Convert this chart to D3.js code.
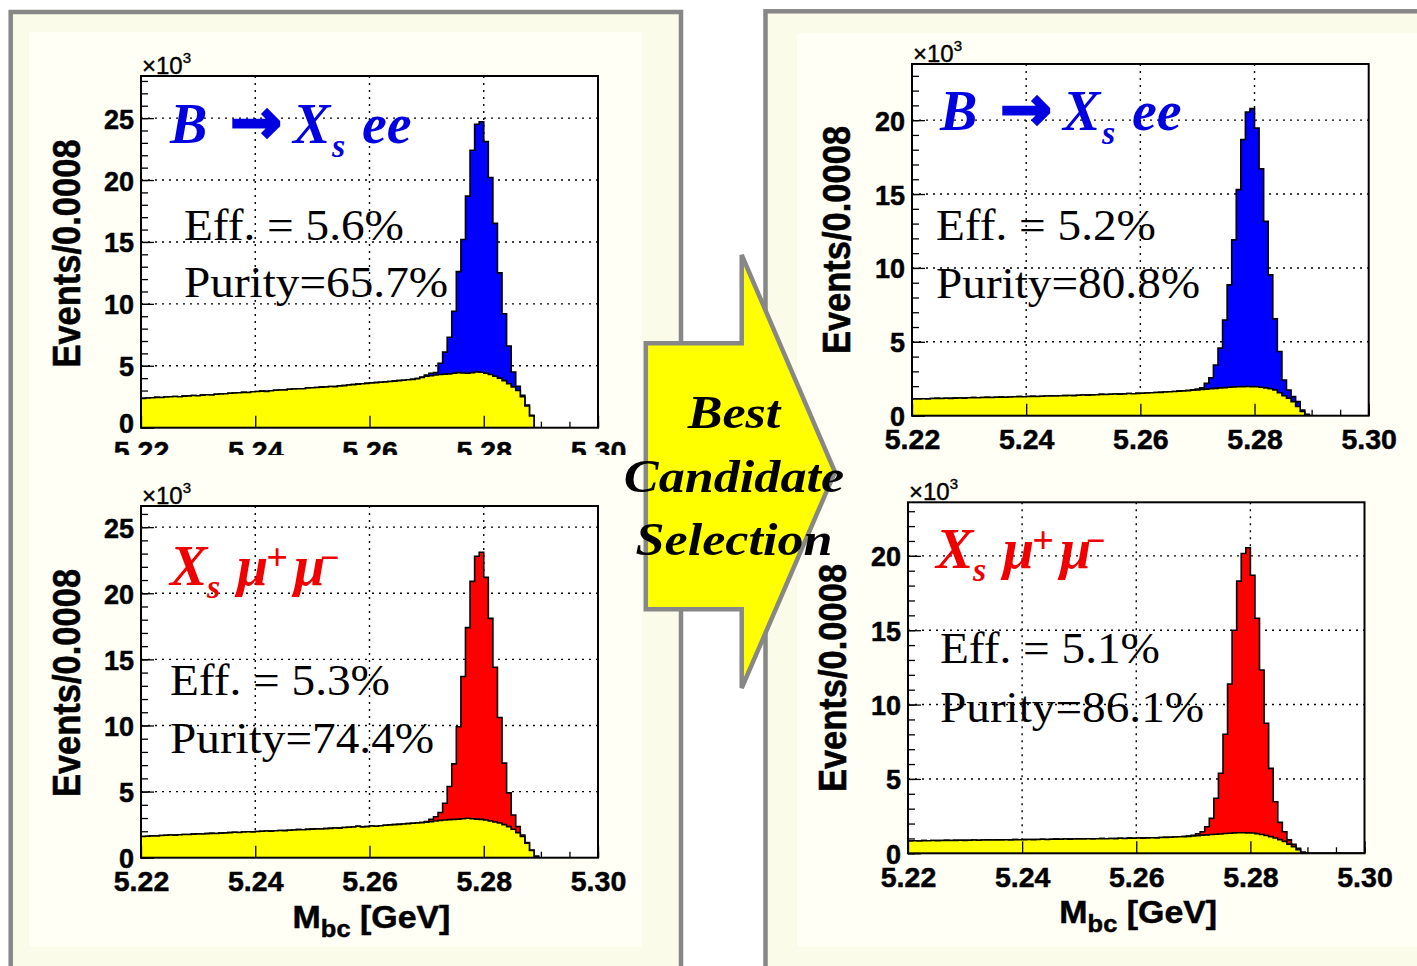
<!DOCTYPE html>
<html>
<head>
<meta charset="utf-8">
<script src="https://cdn.jsdelivr.net/npm/d3@7"></script>
<style>
  body { margin: 0; background: #ffffff; }
  svg { display: block; }
  text { white-space: pre; }
</style>
</head>
<body>
<svg id="fig" width="1417" height="966"></svg>
<script>
// ---------------- data ----------------
const massRange = [5.22, 5.30];
const binWidth = 0.0008;
const nBins = 100;
const massTicks = [5.22, 5.24, 5.26, 5.28, 5.30];
const massTickLabels = ["5.22", "5.24", "5.26", "5.28", "5.30"];
const countTicksAll = [0, 5, 10, 15, 20, 25];
const countTicksBest = [0, 5, 10, 15, 20];
const countTickLabelsAll = ["0", "5", "10", "15", "20", "25"];
const countTickLabelsBest = ["0", "5", "10", "15", "20"];
const peakFirstBin = 60;   // signal arrays start at this bin

// background (yellow), events per bin in units of 10^3, 100 bins
const bkgEeAll = [
  2.37, 2.40, 2.42, 2.45, 2.44, 2.48, 2.50, 2.52, 2.50, 2.55,
  2.57, 2.60, 2.58, 2.63, 2.66, 2.64, 2.70, 2.72, 2.74, 2.78,
  2.80, 2.82, 2.85, 2.84, 2.90, 2.92, 2.95, 2.93, 2.98, 3.02,
  3.05, 3.04, 3.10, 3.12, 3.15, 3.14, 3.20, 3.22, 3.25, 3.28,
  3.30, 3.33, 3.32, 3.38, 3.40, 3.45, 3.48, 3.52, 3.55, 3.58,
  3.62, 3.64, 3.67, 3.70, 3.73, 3.76, 3.80, 3.83, 3.87, 3.90,
  3.96, 4.05, 4.15, 4.20, 4.25, 4.30, 4.32, 4.35, 4.40, 4.45,
  4.42, 4.40, 4.45, 4.50, 4.48, 4.40, 4.30, 4.15, 4.00, 3.80,
  3.55, 3.30, 3.00, 2.50, 1.75, 0.95, 0, 0, 0, 0,
  0, 0, 0, 0, 0, 0, 0, 0, 0, 0
];
const bkgMuMuAll = [
  1.60, 1.62, 1.65, 1.64, 1.68, 1.70, 1.72, 1.71, 1.74, 1.76,
  1.75, 1.78, 1.80, 1.79, 1.82, 1.84, 1.83, 1.86, 1.88, 1.90,
  1.92, 1.91, 1.94, 1.96, 1.95, 1.98, 2.00, 2.02, 2.01, 2.04,
  2.06, 2.05, 2.08, 2.10, 2.12, 2.11, 2.14, 2.16, 2.18, 2.17,
  2.20, 2.22, 2.25, 2.24, 2.28, 2.30, 2.32, 2.38, 2.33, 2.35,
  2.40, 2.38, 2.42, 2.45, 2.48, 2.50, 2.52, 2.55, 2.58, 2.60,
  2.62, 2.65, 2.68, 2.72, 2.78, 2.82, 2.85, 2.88, 2.90, 2.92,
  2.95, 2.98, 2.95, 2.92, 2.90, 2.85, 2.78, 2.70, 2.62, 2.50,
  2.35, 2.15, 1.90, 1.60, 1.10, 0.55, 0.10, 0, 0, 0,
  0, 0, 0, 0, 0, 0, 0, 0, 0, 0
];
const bkgEeBest = [
  1.13, 1.14, 1.15, 1.14, 1.16, 1.17, 1.16, 1.18, 1.17, 1.19,
  1.20, 1.19, 1.21, 1.22, 1.21, 1.23, 1.24, 1.23, 1.25, 1.26,
  1.25, 1.27, 1.28, 1.29, 1.28, 1.30, 1.31, 1.30, 1.32, 1.33,
  1.34, 1.33, 1.35, 1.36, 1.37, 1.36, 1.38, 1.40, 1.39, 1.41,
  1.42, 1.44, 1.43, 1.45, 1.47, 1.46, 1.48, 1.50, 1.49, 1.51,
  1.52, 1.54, 1.55, 1.57, 1.58, 1.60, 1.62, 1.64, 1.66, 1.68,
  1.70, 1.72, 1.75, 1.78, 1.80, 1.83, 1.85, 1.88, 1.90, 1.93,
  1.95, 1.96, 1.97, 1.98, 1.97, 1.96, 1.93, 1.88, 1.82, 1.75,
  1.55, 1.35, 1.18, 0.95, 0.62, 0.28, 0.05, 0, 0, 0,
  0, 0, 0, 0, 0, 0, 0, 0, 0, 0
];
const bkgMuMuBest = [
  0.83, 0.84, 0.83, 0.85, 0.84, 0.86, 0.85, 0.86, 0.87, 0.86,
  0.87, 0.88, 0.87, 0.88, 0.89, 0.88, 0.89, 0.90, 0.89, 0.90,
  0.90, 0.91, 0.90, 0.92, 0.91, 0.92, 0.93, 0.92, 0.93, 0.94,
  0.93, 0.94, 0.95, 0.94, 0.96, 0.95, 0.96, 0.97, 0.96, 0.98,
  0.97, 0.98, 0.99, 0.98, 1.00, 0.99, 1.01, 1.00, 1.02, 1.01,
  1.03, 1.02, 1.04, 1.05, 1.04, 1.06, 1.07, 1.08, 1.10, 1.11,
  1.12, 1.14, 1.16, 1.19, 1.22, 1.24, 1.26, 1.28, 1.30, 1.33,
  1.35, 1.37, 1.38, 1.38, 1.37, 1.36, 1.32, 1.26, 1.20, 1.12,
  1.03, 0.92, 0.80, 0.62, 0.45, 0.25, 0.06, 0, 0, 0,
  0, 0, 0, 0, 0, 0, 0, 0, 0, 0
];

// signal (stacked on background), bins 60..87, units of 10^3
const sigEeAll = [
  0, 0.05, 0.11, 0.20, 0.20, 0.90, 1.78, 2.95, 5.00, 8.15,
  10.78, 14.30, 17.95, 20.00, 20.22, 18.70, 15.90, 12.35, 8.50, 5.40,
  3.05, 1.20, 0.35, 0.12, 0.08, 0.05, 0, 0
];
const sigMuMuAll = [
  0, 0, 0.05, 0.18, 0.32, 0.60, 1.27, 2.50, 4.20, 6.98,
  10.75, 14.42, 17.95, 19.88, 20.20, 18.35, 15.32, 11.70, 7.98, 4.65,
  2.55, 1.08, 0.45, 0.12, 0.05, 0.03, 0, 0
];
const sigEeBest = [
  0, 0.03, 0.05, 0.10, 0.39, 0.74, 1.58, 2.69, 4.58, 6.92,
  9.95, 13.34, 16.71, 18.57, 18.81, 17.51, 14.77, 11.27, 7.71, 4.80,
  2.79, 1.07, 0.56, 0.34, 0.33, 0.11, 0.04, 0
];
const sigMuMuBest = [
  0, 0.02, 0.05, 0.12, 0.23, 0.55, 1.09, 2.42, 4.08, 6.67,
  10.03, 13.63, 16.92, 18.78, 19.17, 17.34, 14.48, 11.06, 7.54, 4.59,
  2.44, 1.16, 0.65, 0.28, 0.15, 0.09, 0.01, 0
];

const effLabels = ["Eff. = 5.6%", "Eff. = 5.3%", "Eff. = 5.2%", "Eff. = 5.1%"];
const purityLabels = ["Purity=65.7%", "Purity=74.4%", "Purity=80.8%", "Purity=86.1%"];
const yAxisTitle = "Events/0.0008";
const stepLines = ["Best", "Candidate", "Selection"];

// ---------------- layout ----------------
const SERIF = "'Liberation Serif', 'Times New Roman', serif";
const SANS = "'Liberation Sans', Arial, Helvetica, sans-serif";
const GREY = "#878787";
const CREAM = "#fbfbea";
const CREAM_IN = "#fffff6";

const panels = [
  { bkg: bkgEeAll, sig: sigEeAll, fill: "#0000ff", channel: "ee",
    frame: { l: 141, r: 598, t: 76, b: 427.7 }, yMax: 28.4,
    yTicks: countTicksAll, yLabels: countTickLabelsAll, stat: 0, zeroDy: "0.18em",
    title: { x: 170, y: 143 }, statPos: { x: 184, y1: 240, y2: 297 },
    yTitle: { x: 80.4, y: 253.5 }, xTitle: false, labelClipBottom: 455 },
  { bkg: bkgMuMuAll, sig: sigMuMuAll, fill: "#ff0000", channel: "mumu",
    frame: { l: 141, r: 598, t: 506, b: 857.7 }, yMax: 26.6,
    yTicks: countTicksAll, yLabels: countTickLabelsAll, stat: 1, zeroDy: "0.37em",
    title: { x: 170, y: 585 }, statPos: { x: 170, y1: 695, y2: 753 },
    yTitle: { x: 80.4, y: 683 }, xTitle: true },
  { bkg: bkgEeBest, sig: sigEeBest, fill: "#0000ff", channel: "ee",
    frame: { l: 912, r: 1368.7, t: 64, b: 415.7 }, yMax: 23.8,
    yTicks: countTicksBest, yLabels: countTickLabelsBest, stat: 2, zeroDy: "0.37em",
    title: { x: 940, y: 130 }, statPos: { x: 936, y1: 240, y2: 297.7 },
    yTitle: { x: 850, y: 240 }, xTitle: false },
  { bkg: bkgMuMuBest, sig: sigMuMuBest, fill: "#ff0000", channel: "mumu",
    frame: { l: 908, r: 1364.5, t: 502.3, b: 853.3 }, yMax: 23.6,
    yTicks: countTicksBest, yLabels: countTickLabelsBest, stat: 3, zeroDy: "0.37em",
    title: { x: 936, y: 568 }, statPos: { x: 940, y1: 663.3, y2: 721.7 },
    yTitle: { x: 846, y: 678 }, xTitle: true }
];

const svg = d3.select("#fig");
const defs = svg.append("defs");

// ---------------- slide boxes ----------------
const boxes = [
  { x: 10.7, y: 12, w: 670.3, h: 1000, inner: { x: 29, y: 32, w: 613, h: 915 } },
  { x: 765.5, y: 11.3, w: 700, h: 1000, inner: { x: 797, y: 33, w: 640, h: 914 } }
];
boxes.forEach(b => {
  svg.append("rect").attr("x", b.x).attr("y", b.y).attr("width", b.w).attr("height", b.h)
    .attr("fill", CREAM).attr("stroke", "none");
  svg.append("rect").attr("x", b.inner.x).attr("y", b.inner.y)
    .attr("width", b.inner.w).attr("height", b.inner.h).attr("fill", CREAM_IN);
  svg.append("rect").attr("x", b.x).attr("y", b.y).attr("width", b.w).attr("height", b.h)
    .attr("fill", "none").attr("stroke", GREY).attr("stroke-width", 4.5);
});

// ---------------- histogram panels ----------------
const edges = d3.range(nBins + 1).map(i => massRange[0] + i * binWidth);

panels.forEach((p, pi) => {
  const f = p.frame;
  const g = svg.append("g");
  const x = d3.scaleLinear().domain(massRange).range([f.l, f.r]);
  const y = d3.scaleLinear().domain([0, p.yMax]).range([f.b, f.t]);

  const total = p.bkg.map((v, i) => {
    const k = i - peakFirstBin;
    return v + (k >= 0 && k < p.sig.length ? p.sig[k] : 0);
  });
  const steps = vals => {
    const pts = vals.map((v, i) => [edges[i], v]);
    pts.push([edges[nBins], vals[nBins - 1]]);
    return pts;
  };

  // plot area
  g.append("rect").attr("x", f.l).attr("y", f.t).attr("width", f.r - f.l)
    .attr("height", f.b - f.t).attr("fill", "#ffffff");

  const clipId = "frame-clip-" + pi;
  defs.append("clipPath").attr("id", clipId).append("rect")
    .attr("x", f.l).attr("y", f.t).attr("width", f.r - f.l).attr("height", f.b - f.t);

  // dotted grid
  const grid = g.append("g").attr("stroke", "#000").attr("stroke-width", 1.4)
    .attr("stroke-dasharray", "2,5");
  grid.selectAll("line.v").data(massTicks.slice(1, -1)).join("line")
    .attr("x1", d => x(d)).attr("x2", d => x(d)).attr("y1", f.t).attr("y2", f.b);
  grid.selectAll("line.h").data(p.yTicks.filter(d => d > 0)).join("line")
    .attr("x1", f.l).attr("x2", f.r).attr("y1", d => y(d)).attr("y2", d => y(d));

  // minor ticks (inside the frame)
  const minorY = d3.range(0, Math.floor(p.yMax) + 1);
  g.append("g").attr("transform", `translate(${f.l},0)`)
    .call(d3.axisLeft(y).tickValues(minorY).tickSize(-7).tickFormat(""))
    .call(a => a.select(".domain").remove())
    .call(a => a.selectAll("line").attr("stroke", "#000").attr("stroke-width", 1.3));
  const minorX = d3.range(0, 17).map(i => +(massRange[0] + i * 0.005).toFixed(3));
  g.append("g").attr("transform", `translate(0,${f.b})`)
    .call(d3.axisBottom(x).tickValues(minorX).tickSize(-6).tickFormat(""))
    .call(a => a.select(".domain").remove())
    .call(a => a.selectAll("line").attr("stroke", "#000").attr("stroke-width", 1.3));

  // stacked histograms
  const area = d3.area().curve(d3.curveStepAfter)
    .x(d => x(d[0])).y0(y(0)).y1(d => y(d[1]));
  const line = d3.line().curve(d3.curveStepAfter)
    .x(d => x(d[0])).y(d => y(d[1]));
  const hist = g.append("g").attr("clip-path", `url(#${clipId})`);
  hist.append("path").datum(steps(total)).attr("d", area).attr("fill", p.fill);
  hist.append("path").datum(steps(total)).attr("d", line)
    .attr("fill", "none").attr("stroke", "#000").attr("stroke-width", 1.6);
  hist.append("path").datum(steps(p.bkg)).attr("d", area).attr("fill", "#ffff00");
  hist.append("path").datum(steps(p.bkg)).attr("d", line)
    .attr("fill", "none").attr("stroke", "#000").attr("stroke-width", 1.6);

  // major ticks + labels
  const yAx = g.append("g").attr("transform", `translate(${f.l},0)`)
    .call(d3.axisLeft(y).tickValues(p.yTicks).tickSize(-13).tickPadding(7)
      .tickFormat((d, i) => p.yLabels[i]));
  yAx.select(".domain").remove();
  yAx.selectAll("line").attr("stroke", "#000").attr("stroke-width", 1.3);
  yAx.selectAll("text").attr("font-family", SANS).attr("font-weight", "bold")
    .attr("font-size", 27).attr("fill", "#000").attr("stroke", "#000").attr("stroke-width", 0.5)
    .attr("dy", d => d === 0 ? p.zeroDy : "0.37em");

  let xAxG = g;
  if (p.labelClipBottom) {
    const cid = "label-clip-" + pi;
    defs.append("clipPath").attr("id", cid).append("rect")
      .attr("x", 0).attr("y", 0).attr("width", 760).attr("height", p.labelClipBottom);
    xAxG = g.append("g").attr("clip-path", `url(#${cid})`);
  }
  const xAx = xAxG.append("g").attr("transform", `translate(0,${f.b})`)
    .call(d3.axisBottom(x).tickValues(massTicks).tickSize(-12).tickPadding(13)
      .tickFormat((d, i) => massTickLabels[i]));
  xAx.select(".domain").remove();
  xAx.selectAll("line").attr("stroke", "#000").attr("stroke-width", 1.3);
  xAx.selectAll("text").attr("font-family", SANS).attr("font-weight", "bold")
    .attr("font-size", 28.5).attr("fill", "#000").attr("stroke", "#000").attr("stroke-width", 0.5);

  // frame border
  g.append("rect").attr("x", f.l).attr("y", f.t).attr("width", f.r - f.l)
    .attr("height", f.b - f.t).attr("fill", "none").attr("stroke", "#000").attr("stroke-width", 2);

  // x10^3 multiplier
  const mult = g.append("text").attr("x", f.l + 1).attr("y", f.t - 2.5)
    .attr("font-family", SANS).attr("font-size", 24).attr("fill", "#000")
    .attr("stroke", "#000").attr("stroke-width", 0.4);
  mult.append("tspan").text("\u00d710");
  mult.append("tspan").attr("font-size", 15).attr("dy", -11).text("3");

  // y axis title
  g.append("text")
    .attr("transform", `translate(${p.yTitle.x},${p.yTitle.y}) rotate(-90) scale(1,1.12)`)
    .attr("text-anchor", "middle").attr("font-family", SANS).attr("font-weight", "bold")
    .attr("font-size", 34.5).attr("fill", "#000").attr("stroke", "#000").attr("stroke-width", 0.5)
    .text(yAxisTitle);

  // x axis title
  if (p.xTitle) {
    const t = g.append("text")
      .attr("transform", `translate(${(f.l + f.r) / 2 + 2},${f.b + 70}) scale(1.06,1)`)
      .attr("text-anchor", "middle").attr("font-family", SANS).attr("font-weight", "bold")
      .attr("font-size", 32).attr("fill", "#000").attr("stroke", "#000").attr("stroke-width", 0.5);
    t.append("tspan").text("M");
    t.append("tspan").attr("font-size", 24).attr("dy", 9).text("bc");
    t.append("tspan").attr("dy", -9).text(" [GeV]");
  }

  // channel title
  const tx = p.title.x;
  if (p.channel === "ee") {
    const t = g.append("text").attr("y", p.title.y).attr("font-family", SERIF)
      .attr("font-style", "italic").attr("font-weight", "bold").attr("font-size", 56)
      .attr("fill", "#0000e0");
    t.append("tspan").attr("x", tx).text("B");
    t.append("tspan").attr("x", tx + 60).attr("font-family", "'DejaVu Sans', sans-serif")
      .attr("font-style", "normal").attr("font-size", 62)
      .attr("stroke", "#0000e0").attr("stroke-width", 2.5).text("\u2192");
    t.append("tspan").attr("x", tx + 123).text("X");
    t.append("tspan").attr("x", tx + 162).attr("font-size", 34).attr("dy", 14).text("s");
    t.append("tspan").attr("x", tx + 192).attr("dy", -14).text("ee");
  } else {
    const t = g.append("text").attr("y", p.title.y).attr("font-family", SERIF)
      .attr("font-style", "italic").attr("font-weight", "bold").attr("font-size", 56)
      .attr("fill", "#f00000");
    t.append("tspan").attr("x", tx).text("X");
    t.append("tspan").attr("x", tx + 37).attr("font-size", 34).attr("dy", 13).text("s");
    t.append("tspan").attr("x", tx + 67).attr("dy", -13).text("\u03bc");
    t.append("tspan").attr("x", tx + 96).attr("font-size", 38).attr("dy", -15).text("+");
    t.append("tspan").attr("x", tx + 124).attr("dy", 15).text("\u03bc");
    t.append("tspan").attr("x", tx + 149).attr("font-size", 34).attr("dy", -16).text("\u2212");
  }

  // efficiency / purity
  [[effLabels[p.stat], p.statPos.y1], [purityLabels[p.stat], p.statPos.y2]].forEach(([s, yy]) => {
    g.append("text").attr("transform", `translate(${p.statPos.x},${yy}) scale(1.05,1)`)
      .attr("font-family", SERIF).attr("font-size", 45).attr("fill", "#000").text(s);
  });
});

// ---------------- block arrow between the two columns ----------------
const arrowPts = [[645.8, 343.3], [741.7, 343.3], [741.7, 255], [835, 472],
                  [741.7, 688], [741.7, 609.3], [645.8, 609.3]];
svg.append("polygon").attr("points", arrowPts.map(d => d.join(",")).join(" "))
  .attr("fill", "#ffff00").attr("stroke", GREY).attr("stroke-width", 4.5)
  .attr("stroke-linejoin", "miter");
const stepBaselines = [428, 492, 555];
stepLines.forEach((s, i) => {
  svg.append("text").attr("transform", `translate(734,${stepBaselines[i]}) scale(1.11,1)`)
    .attr("text-anchor", "middle").attr("font-family", SERIF).attr("font-style", "italic")
    .attr("font-weight", "bold").attr("font-size", 47).attr("fill", "#000").text(s);
});
</script>
</body>
</html>
